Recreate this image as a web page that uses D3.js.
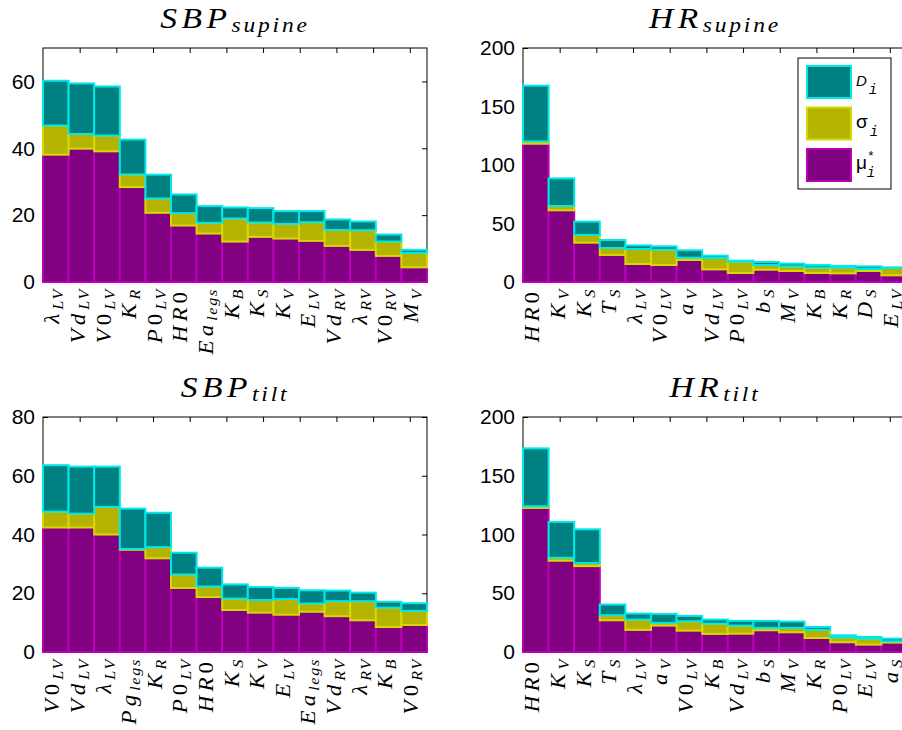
<!DOCTYPE html>
<html><head><meta charset="utf-8">
<script src="https://cdn.jsdelivr.net/npm/d3@7"></script>
<style>body{margin:0;background:#fff}svg{display:block}</style>
</head><body>
<svg id="c" width="902" height="730"></svg>
<script>
// ---------- DATA ----------
const sbpSupineLabels = ["λ_LV","Vd_LV","V0_LV","K_R","P0_LV","HR0","Ea_legs","K_B","K_S","K_V","E_LV","Vd_RV","λ_RV","V0_RV","M_V"];
const sbpSupineMu    = [38.1,39.9,39.1,28.4,20.7,16.9,14.5,12.1,13.5,13.0,12.3,10.8,9.6,7.8,4.4];
const sbpSupineSigma = [8.7,4.4,4.7,3.8,4.3,3.7,3.2,6.9,4.3,4.4,5.6,4.8,5.9,4.3,4.3];
const sbpSupineD     = [13.4,15.1,14.7,10.4,7.1,5.6,5.0,3.3,4.3,3.8,3.3,3.1,2.6,2.1,0.9];

const hrSupineLabels = ["HR0","K_V","K_S","T_S","λ_LV","V0_LV","a_V","Vd_LV","P0_LV","b_S","M_V","K_B","K_R","D_S","E_LV"];
const hrSupineMu    = [118.2,61.3,33.6,23.1,15.4,14.5,18.8,10.8,7.7,10.5,9.4,7.7,7.4,9.4,5.7];
const hrSupineSigma = [2.0,3.7,6.6,6.0,12.8,13.1,2.0,9.7,9.7,4.0,4.0,4.6,4.9,1.7,6.3];
const hrSupineD     = [47.6,23.6,11.4,6.8,3.1,2.9,6.3,2.0,0.8,2.6,2.3,2.2,1.4,2.3,0.5];

const sbpTiltLabels = ["V0_LV","Vd_LV","λ_LV","Pg_legs","K_R","P0_LV","HR0","K_S","K_V","E_LV","Ea_legs","Vd_RV","λ_RV","K_B","V0_RV"];
const sbpTiltMu    = [42.4,42.4,40.0,34.8,31.9,21.8,18.7,14.3,13.4,12.7,13.7,12.2,10.8,8.5,9.2];
const sbpTiltSigma = [5.4,4.7,9.4,0.3,3.8,4.6,3.6,3.9,4.3,5.3,2.8,5.1,6.5,6.6,4.8];
const sbpTiltD     = [15.8,16.0,13.7,13.7,11.7,7.4,6.4,4.8,4.4,3.8,4.5,3.6,2.9,2.0,2.6];

const hrTiltLabels = ["HR0","K_V","K_S","T_S","λ_LV","a_V","V0_LV","K_B","Vd_LV","b_S","M_V","K_R","P0_LV","E_LV","a_S"];
const hrTiltMu    = [122.6,77.7,73.1,27.0,18.8,22.5,18.2,15.4,15.6,18.5,16.8,11.9,8.3,6.3,8.0];
const hrTiltSigma = [1.4,2.5,2.6,4.3,8.8,2.3,8.0,8.8,6.9,2.0,3.7,6.9,4.2,5.1,1.1];
const hrTiltD     = [49.3,30.5,28.7,9.1,5.1,7.6,4.5,3.4,4.0,6.0,5.4,2.5,1.7,1.4,2.3];

const sbpSupineTicks = [0,20,40,60];
const sbpTiltTicks = [0,20,40,60,80];
const hrTicks = [0,50,100,150,200];
const seriesKeys = ["mu","sigma","D"];

// ---------- STYLE ----------
const fills   = {mu:"#800080", sigma:"#b4b400", D:"#008080"};
const strokes = {mu:"#b800b8", sigma:"#d8d800", D:"#00e8e8"};
const mathFont = "'Liberation Serif', serif";
const sansFont = "'Liberation Sans', Arial, sans-serif";

const svg = d3.select("#c");

function mathText(g, str, size, subSize, subDy, spacing, subSpacing) {
  const [main, sub] = str.split("_");
  const t = g.append("text").attr("font-family", mathFont).attr("font-size", size);
  for (const ch of main) {
    t.append("tspan").attr("font-style", /[0-9]/.test(ch) ? "normal" : "italic")
      .attr("letter-spacing", spacing).text(ch);
  }
  if (sub) {
    t.append("tspan").attr("font-style","italic").attr("font-size", subSize)
      .attr("letter-spacing", subSpacing).attr("dy", subDy).text(sub);
  }
  return t;
}

const panels = [
  {title:"SBP_supine", labels:sbpSupineLabels, mu:sbpSupineMu, sigma:sbpSupineSigma, D:sbpSupineD, ymax:70, ticks:sbpSupineTicks, x0:43, x1:427, y0:48, y1:282, ty:28},
  {title:"HR_supine", labels:hrSupineLabels, mu:hrSupineMu, sigma:hrSupineSigma, D:hrSupineD, ymax:200, ticks:hrTicks, x0:523, x1:907, y0:48, y1:282, ty:28, legend:true},
  {title:"SBP_tilt", labels:sbpTiltLabels, mu:sbpTiltMu, sigma:sbpTiltSigma, D:sbpTiltD, ymax:80, ticks:sbpTiltTicks, x0:43, x1:427, y0:417, y1:652, ty:397},
  {title:"HR_tilt", labels:hrTiltLabels, mu:hrTiltMu, sigma:hrTiltSigma, D:hrTiltD, ymax:200, ticks:hrTicks, x0:523, x1:907, y0:417, y1:652, ty:397}
];

panels.forEach(p => {
  const g = svg.append("g");
  const x = d3.scaleBand().domain(p.labels).range([p.x0, p.x1]).padding(0);
  const y = d3.scaleLinear().domain([0, p.ymax]).range([p.y1, p.y0]);
  const xt = d3.scaleLinear().domain([0, 10.47]).range([p.x0, p.x1]);

  // axes box
  g.append("rect").attr("x", p.x0).attr("y", p.y0).attr("width", p.x1-p.x0).attr("height", p.y1-p.y0)
    .attr("fill","#fff").attr("stroke","#000").attr("stroke-width",1);

  const ya = g.append("g").attr("transform", `translate(${p.x0},0)`)
    .call(d3.axisLeft(y).tickValues(p.ticks).tickSize(-5).tickPadding(8).tickFormat(d3.format("d")));
  ya.select(".domain").remove();
  ya.selectAll("text").attr("font-family", sansFont).attr("font-size", 21).attr("fill","#000");
  ya.selectAll("line").attr("stroke","#000");

  const yr = g.append("g").attr("transform", `translate(${p.x1},0)`)
    .call(d3.axisRight(y).tickValues(p.ticks).tickSize(-5).tickFormat(""));
  yr.select(".domain").remove();

  const xa = g.append("g").attr("transform", `translate(0,${p.y0})`)
    .call(d3.axisTop(xt).tickValues(d3.range(1, 11)).tickSize(-5).tickFormat(""));
  xa.select(".domain").remove();

  // stacked bars
  const rows = p.labels.map((l, i) => ({label:l, mu:p.mu[i], sigma:p.sigma[i], D:p.D[i]}));
  const stack = d3.stack().keys(seriesKeys)(rows);
  stack.forEach(s => {
    g.append("g").selectAll("rect").data(s).join("rect")
      .attr("x", d => x(d.data.label))
      .attr("width", x.bandwidth())
      .attr("y", d => y(d[1]))
      .attr("height", d => y(d[0]) - y(d[1]))
      .attr("fill", fills[s.key])
      .attr("stroke", strokes[s.key])
      .attr("stroke-width", 2);
  });

  // x labels (rotated)
  p.labels.forEach(l => {
    const cx = x(l) + x.bandwidth()/2;
    const lg = g.append("g").attr("transform", `translate(${cx + 3.5},${p.y1 + 6}) rotate(-90) scale(1.15,1)`);
    mathText(lg, l, 20, 14, 4, 3.5, 1.5).attr("text-anchor","end");
  });

  // title
  const tg = g.append("g").attr("transform", `translate(${(p.x0+p.x1)/2},${p.ty}) scale(1.12,1)`);
  const [tm, ts] = p.title.split("_");
  const tt = tg.append("text").attr("font-family", mathFont).attr("font-style","italic")
    .attr("font-size", 30).attr("text-anchor","middle");
  tt.append("tspan").attr("letter-spacing", 4).text(tm);
  tt.append("tspan").attr("font-size", 21).attr("dy", 4).attr("letter-spacing", 2.5).text(ts);

  if (p.legend) {
    const lx = 798, ly = 58;
    const lgd = g.append("g");
    lgd.append("rect").attr("x", lx).attr("y", ly).attr("width", 93).attr("height", 131)
      .attr("fill","#fff").attr("stroke","#000").attr("stroke-width",1);
    const items = [["D","D"],["sigma","σ"],["mu","μ"]];
    items.forEach(([k, sym], i) => {
      const sy = ly + 8 + i * 41.5;
      lgd.append("rect").attr("x", lx + 9).attr("y", sy).attr("width", 44).attr("height", 32)
        .attr("fill", fills[k]).attr("stroke", strokes[k]).attr("stroke-width", 2);
      const t = lgd.append("text").attr("x", lx + 58).attr("y", sy + 20)
        .attr("font-size", 19).attr("fill","#000");
      if (k === "D") {
        t.append("tspan").attr("font-family", sansFont).attr("font-style","italic").attr("font-size",15).text("D");
      } else {
        t.append("tspan").attr("font-family", sansFont).text(sym);
      }
      if (k === "mu") {
        t.append("tspan").attr("font-family", "'Liberation Mono', monospace").attr("font-size", 13).attr("dy", -9).text("*");
        t.append("tspan").attr("font-family", "'Liberation Mono', monospace").attr("font-style","italic").attr("font-size", 14).attr("dx", -8).attr("dy", 17).text("i");
      } else {
        t.append("tspan").attr("font-family", "'Liberation Mono', monospace").attr("font-style","italic").attr("font-size", 14).attr("dx", 2).attr("dy", 8).text("i");
      }
    });
  }
});
</script>
</body></html>
